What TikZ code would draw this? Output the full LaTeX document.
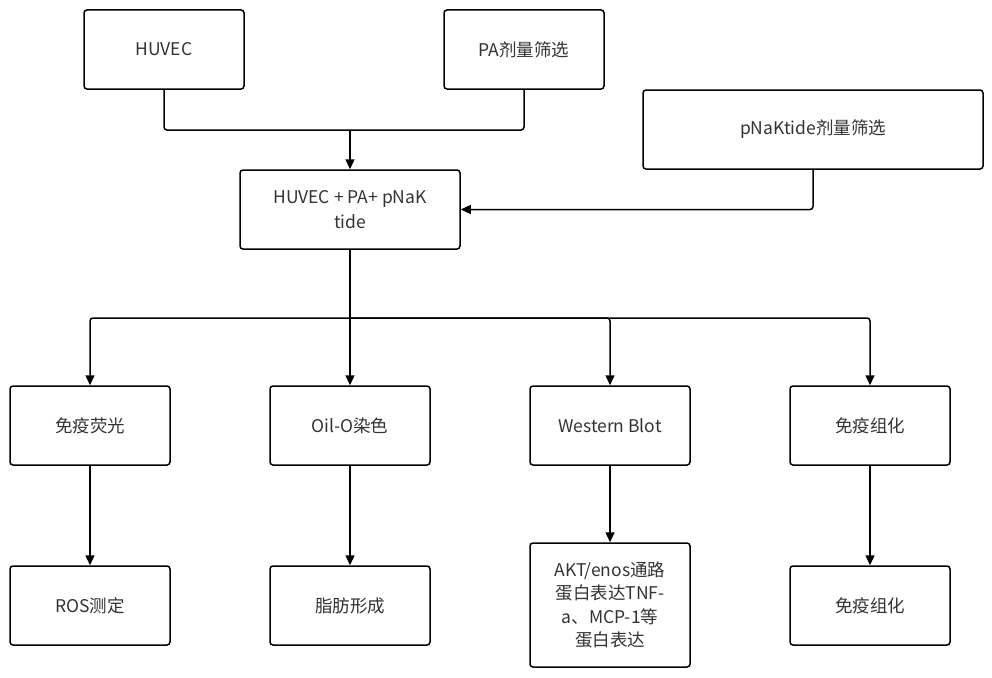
\documentclass[tikz,border=0pt]{standalone}
\usepackage{fontspec}
\setmainfont{Noto Sans CJK SC}
\usetikzlibrary{arrows.meta}
\definecolor{txt}{HTML}{333333}
\begin{document}
\begin{tikzpicture}
        [x=1pt, y=-1pt,
        box/.style={draw, rounded corners=3pt, line width=1.5pt, minimum width=160pt, minimum height=79pt,
                    inner sep=2pt, align=center, text=txt, font=\fontsize{17.5}{24.5}\selectfont},
        edge/.style={line width=1.5pt, rounded corners=3pt},
        arrow/.style={edge, -{Triangle[length=10pt, width=9pt]}}]
        \useasboundingbox (0,0) rectangle (992,677);

        % Top row: inputs
        \node[box] (H) at (164,49.5) {HUVEC};
        \node[box] (P) at (524,49.5) {PA剂量筛选};
        \node[box, minimum width=340pt] (K) at (813,129.5) {pNaKtide剂量筛选};
        \node[box, minimum width=220pt] (M) at (350,209.5) {HUVEC + PA+ pNaK\\tide};

        % Experiments
        \node[box] (A1) at (90,425.5) {免疫荧光};
        \node[box] (B1) at (350,425.5) {Oil-O染色};
        \node[box] (C1) at (610,425.5) {Western Blot};
        \node[box] (D1) at (870,425.5) {免疫组化};

        % Results
        \node[box] (A2) at (90,605.5) {ROS测定};
        \node[box] (B2) at (350,605.5) {脂肪形成};
        \node[box, minimum height=124pt, font=\fontsize{17.5}{23.5}\selectfont] (C2) at (610,605) {AKT/enos通路\\蛋白表达TNF-\\a、MCP-1等\\蛋白表达};
        \node[box] (D2) at (870,605.5) {免疫组化};

        % Joins
        \coordinate (J1) at (350,130);
        \coordinate (J2) at (350,318);

        \draw[edge] (H.south) |- (J1);
        \draw[edge] (P.south) |- (J1);
        \draw[arrow] (J1) -- (M.north);
        \draw[arrow] (K.south) |- (M.east);

        \draw[edge] (M.south) -- (J2);
        \draw[arrow] (J2) -| (A1.north);
        \draw[arrow] (J2) -- (B1.north);
        \draw[arrow] (J2) -| (C1.north);
        \draw[arrow] (J2) -| (D1.north);

        \draw[arrow] (A1) -- (A2);
        \draw[arrow] (B1) -- (B2);
        \draw[arrow] (C1) -- (C2);
        \draw[arrow] (D1) -- (D2);
    \end{tikzpicture}
\end{document}
